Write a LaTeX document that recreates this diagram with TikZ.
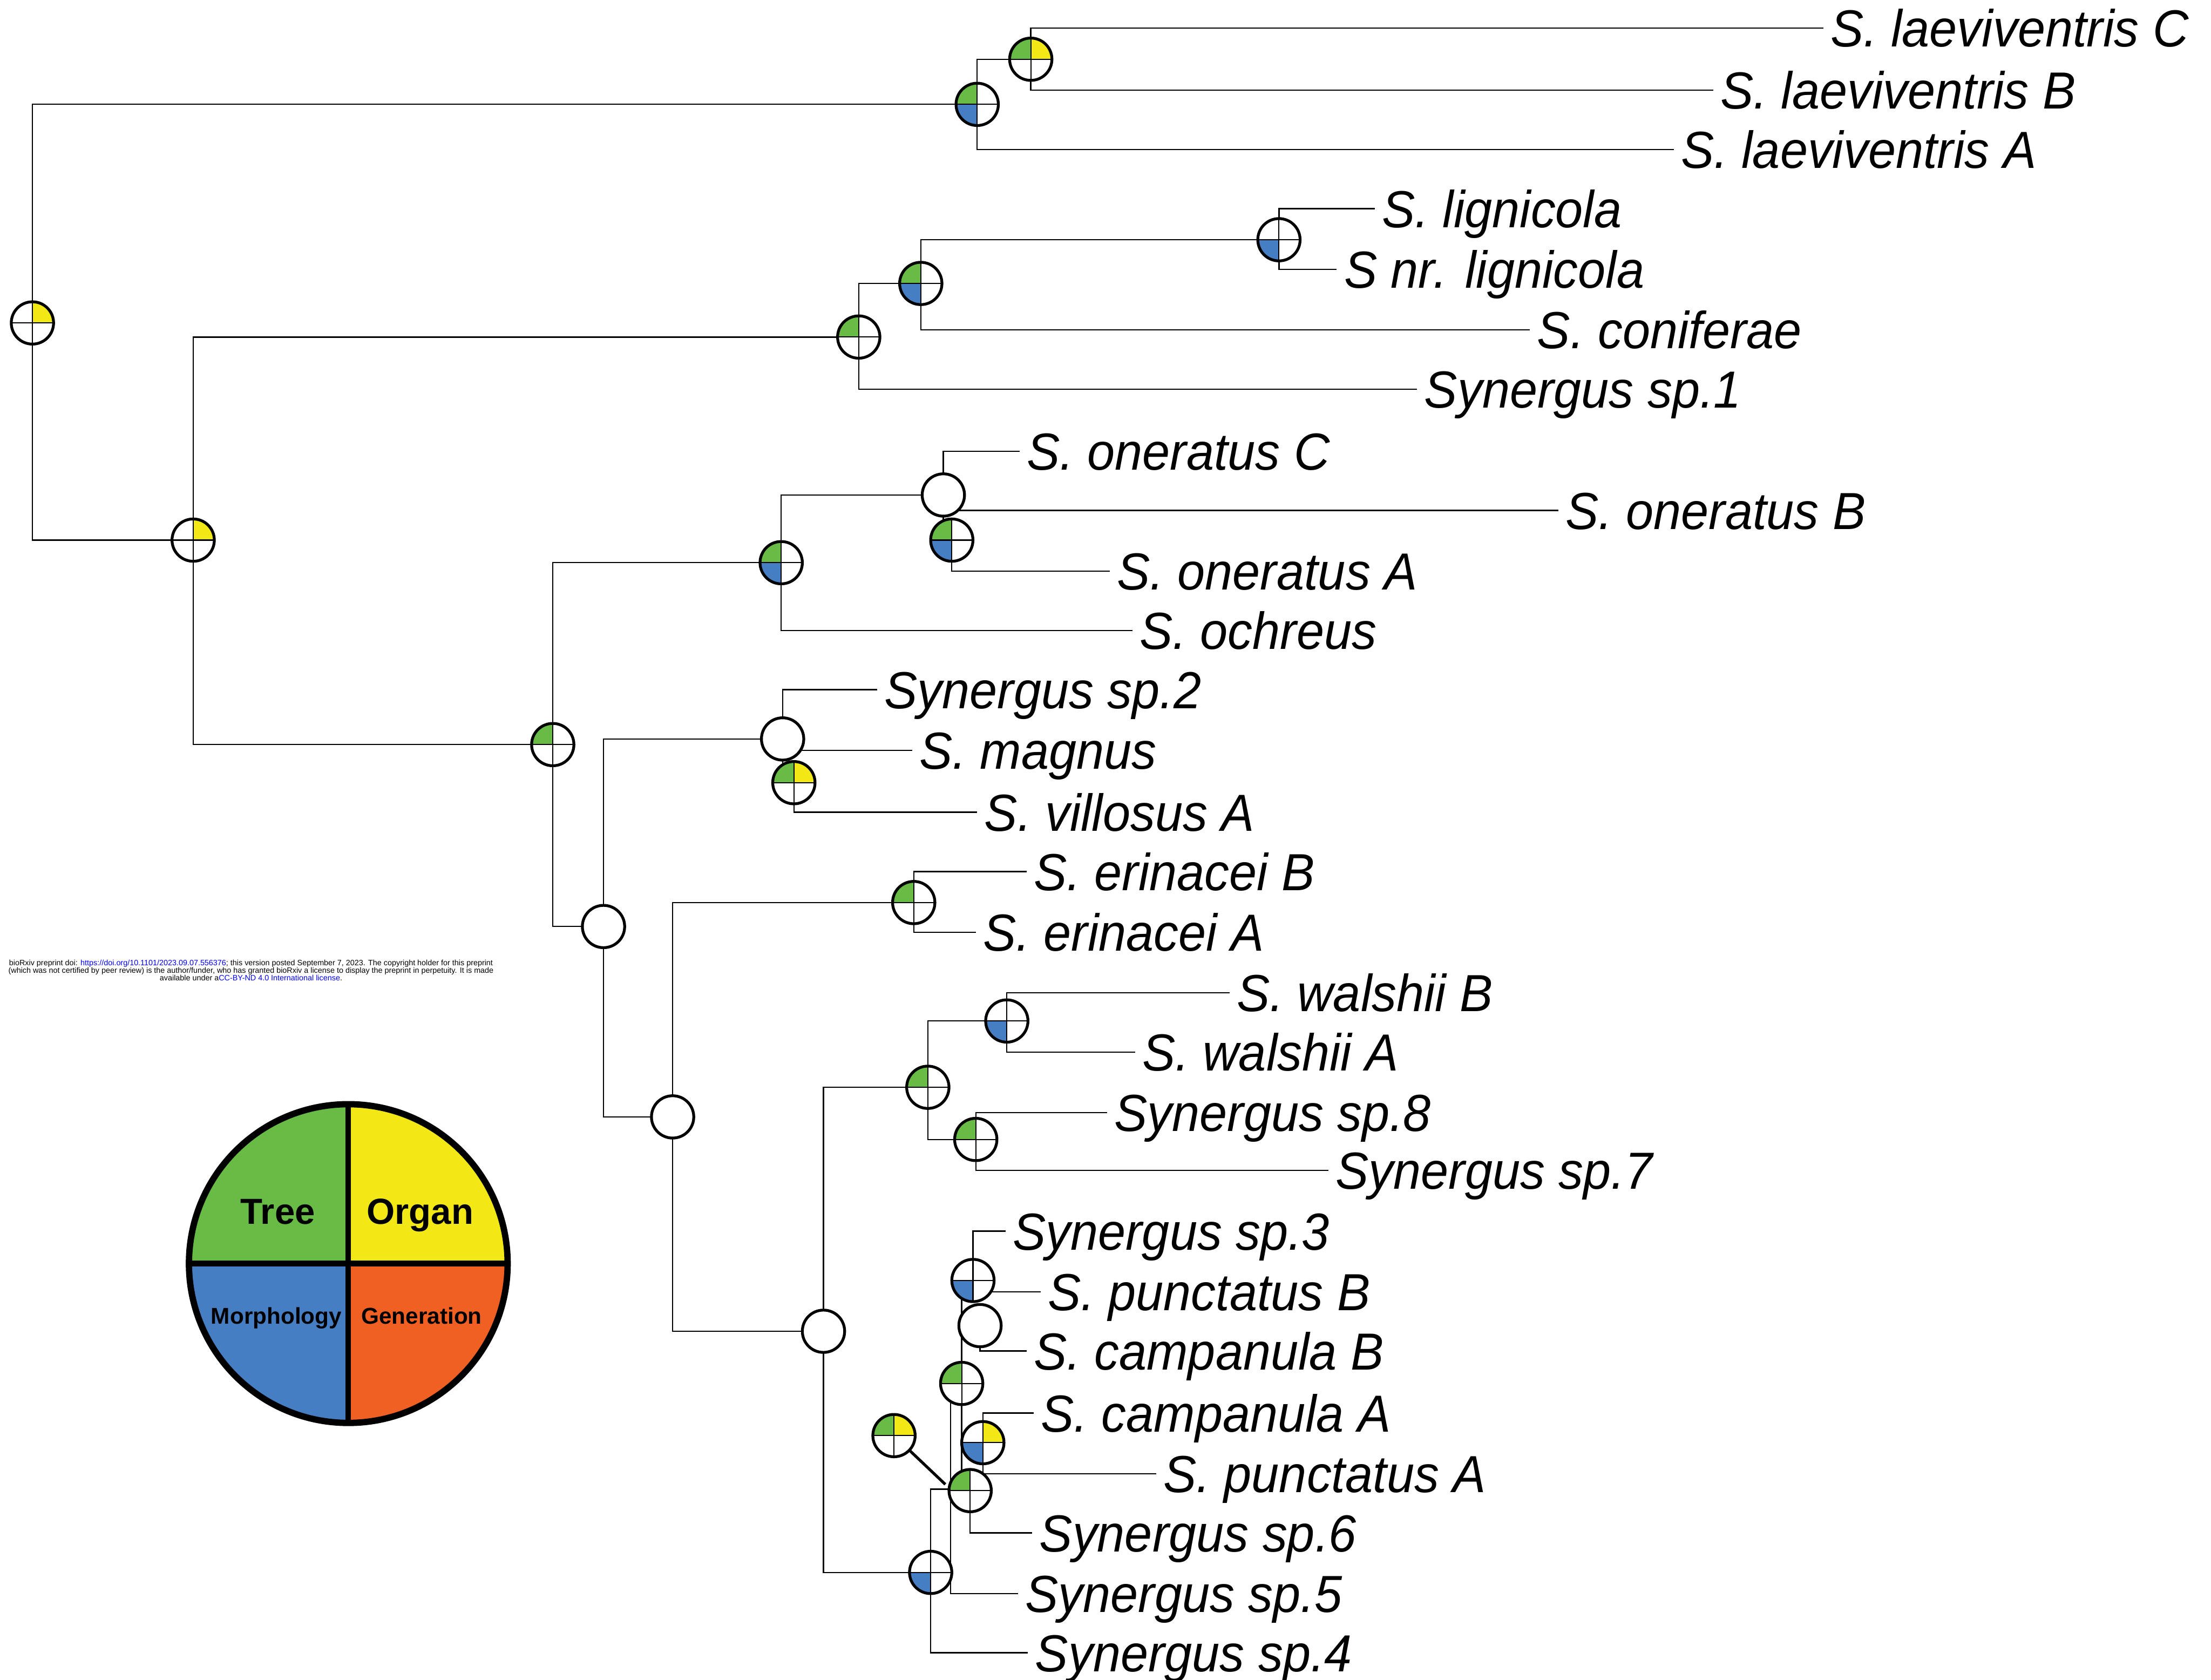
\documentclass[tikz,border=0pt]{standalone}
\usepackage{fontspec}
\setmainfont{Liberation Sans}
\newfontfamily\taxfont{Liberation Sans}[FakeStretch=0.95]
\newfontfamily\keyfont{Liberation Sans}
\usetikzlibrary{backgrounds}

\definecolor{treegreen}{RGB}{104,187,69}
\definecolor{organyellow}{RGB}{242,232,22}
\definecolor{morphblue}{RGB}{70,126,196}
\definecolor{genorange}{RGB}{240,96,34}
\definecolor{linkblue}{RGB}{0,0,255}

\tikzset{
  taxon/.style={anchor=west, inner xsep=5pt, inner ysep=0pt, text height=26.5pt, text depth=0pt,
    font=\taxfont\itshape\fontsize{37}{40}\selectfont},
  branch/.style={line width=0.9pt},
  blank/.style={circle, draw, fill=white, line width=2pt, minimum size=30pt, inner sep=0pt},
  pie/.style n args={4}{blank, path picture={
      \fill[#1] (path picture bounding box.center) rectangle (path picture bounding box.north west);
      \fill[#2] (path picture bounding box.center) rectangle (path picture bounding box.north east);
      \fill[#3] (path picture bounding box.center) rectangle (path picture bounding box.south west);
      \fill[#4] (path picture bounding box.center) rectangle (path picture bounding box.south east);
      \draw[line width=0.8pt] (path picture bounding box.north) -- (path picture bounding box.south)
        (path picture bounding box.west) -- (path picture bounding box.east);
    }},
  keypie/.style={circle, draw, line width=4.5pt, minimum size=226pt, inner sep=0pt, path picture={
      \fill[treegreen] (path picture bounding box.center) rectangle (path picture bounding box.north west);
      \fill[organyellow] (path picture bounding box.center) rectangle (path picture bounding box.north east);
      \fill[morphblue] (path picture bounding box.center) rectangle (path picture bounding box.south west);
      \fill[genorange] (path picture bounding box.center) rectangle (path picture bounding box.south east);
      \draw[line width=4pt] (path picture bounding box.north) -- (path picture bounding box.south)
        (path picture bounding box.west) -- (path picture bounding box.east);
    }},
  keybig/.style={inner sep=0pt, text height=18.4pt, text depth=0pt, font=\keyfont\bfseries\fontsize{25.7}{28}\selectfont},
  keysmall/.style={inner sep=0pt, text height=11.5pt, text depth=0pt, font=\keyfont\bfseries\fontsize{16.2}{18}\selectfont},
  note/.style={align=center, inner sep=0pt, font=\fontsize{5.5}{5.5}\selectfont},
}

\begin{document}
\begin{tikzpicture}[x=1pt, y=-1pt]
  \useasboundingbox (0,0) rectangle (1568,1191);

  % taxa
  \node[taxon] (laeC) at (1293,20) {S. laeviventris C};
  \node[taxon] (laeB) at (1215,64) {S. laeviventris B};
  \node[taxon] (laeA) at (1187,106) {S. laeviventris A};
  \node[taxon] (lign) at (975,148) {S. lignicola};
  \node[taxon] (nlign) at (948,191) {S nr. lignicola};
  \node[taxon] (conif) at (1085,234) {S. coniferae};
  \node[taxon] (sp1) at (1005,276) {Synergus sp.1};
  \node[taxon] (onC) at (723,320) {S. oneratus C};
  \node[taxon] (onB) at (1105,362) {S. oneratus B};
  \node[taxon] (onA) at (787,405) {S. oneratus A};
  \node[taxon] (och) at (803,447) {S. ochreus};
  \node[taxon] (sp2) at (622,489) {Synergus sp.2};
  \node[taxon] (magn) at (647,532) {S. magnus};
  \node[taxon] (villA) at (693,576) {S. villosus A};
  \node[taxon] (erB) at (728,618) {S. erinacei B};
  \node[taxon] (erA) at (692,661) {S. erinacei A};
  \node[taxon] (walB) at (872,704) {S. walshii B};
  \node[taxon] (walA) at (805,746) {S. walshii A};
  \node[taxon] (sp8) at (785,789) {Synergus sp.8};
  \node[taxon] (sp7) at (942,830) {Synergus sp.7};
  \node[taxon] (sp3) at (713,873) {Synergus sp.3};
  \node[taxon] (punB) at (738,916) {S. punctatus B};
  \node[taxon] (camB) at (728,958) {S. campanula B};
  \node[taxon] (camA) at (733,1002) {S. campanula A};
  \node[taxon] (punA) at (820,1045) {S. punctatus A};
  \node[taxon] (sp6) at (732,1087) {Synergus sp.6};
  \node[taxon] (sp5) at (722,1130) {Synergus sp.5};
  \node[taxon] (sp4) at (729,1172) {Synergus sp.4};

  % ancestral states: tree, organ, morphology, generation
  \node[pie={white}{organyellow}{white}{white}] (root) at (23,229) {};
  \node[pie={white}{organyellow}{white}{white}] (crown) at (137,383) {};
  \node[pie={treegreen}{white}{morphblue}{white}] (lae) at (693,74) {};
  \node[pie={treegreen}{organyellow}{white}{white}] (laeBC) at (731,42) {};
  \node[pie={treegreen}{white}{white}{white}] (con) at (609,239) {};
  \node[pie={treegreen}{white}{morphblue}{white}] (conA) at (653,201) {};
  \node[pie={white}{white}{morphblue}{white}] (lig) at (907,170) {};
  \node[pie={treegreen}{white}{white}{white}] (sub1) at (392,528) {};
  \node[pie={treegreen}{white}{morphblue}{white}] (one) at (554,399) {};
  \node[blank] (oneC) at (669,351) {};
  \node[pie={treegreen}{white}{morphblue}{white}] (oneA) at (675,383) {};
  \node[blank] (sub2) at (428,657) {};
  \node[blank] (mag) at (555,524) {};
  \node[pie={treegreen}{organyellow}{white}{white}] (vil) at (563,555) {};
  \node[blank] (sub3) at (477,792) {};
  \node[pie={treegreen}{white}{white}{white}] (eri) at (648,640) {};
  \node[blank] (sub4) at (584,944) {};
  \node[pie={treegreen}{white}{white}{white}] (wal) at (658,771) {};
  \node[pie={white}{white}{morphblue}{white}] (walBA) at (714,724) {};
  \node[pie={treegreen}{white}{white}{white}] (sp78) at (692,808) {};
  \coordinate (punK) at (674,1056);
  \node[pie={white}{white}{morphblue}{white}] (pun) at (660,1115) {};
  \node[pie={treegreen}{white}{white}{white}] (punC) at (682,981) {};
  \node[pie={white}{white}{morphblue}{white}] (punD) at (690,908) {};
  \node[blank] (camBn) at (695,940) {};
  \node[pie={white}{organyellow}{morphblue}{white}] (camAn) at (697,1023) {};
  \node[pie={treegreen}{white}{white}{white}] (sp6n) at (688,1057) {};
  \node[pie={treegreen}{organyellow}{white}{white}] (flt) at (634,1018) {};
  \draw[line width=2pt, shorten >=5pt] (flt) -- (punK);

  % branches
  \begin{scope}[on background layer]
    \fill[white] (0,0) rectangle (1568,1191);
    \draw[branch] (lae.center) -| (root.center) |- (crown.center);
    \draw[branch] (laeBC.center) -| (lae.center) |- (laeA.west);
    \draw[branch] (laeC.west) -| (laeBC.center) |- (laeB.west);
    \draw[branch] (con.center) -| (crown.center) |- (sub1.center);
    \draw[branch] (conA.center) -| (con.center) |- (sp1.west);
    \draw[branch] (lig.center) -| (conA.center) |- (conif.west);
    \draw[branch] (lign.west) -| (lig.center) |- (nlign.west);
    \draw[branch] (one.center) -| (sub1.center) |- (sub2.center);
    \draw[branch] (oneC.center) -| (one.center) |- (och.west);
    \draw[branch] (onC.west) -| (oneC.center) |- (oneA.center);
    \draw[branch] (oneC.center |- onB.west) -- (onB.west);
    \draw[branch] (oneA.center) |- (onA.west);
    \draw[branch] (mag.center) -| (sub2.center) |- (sub3.center);
    \draw[branch] (sp2.west) -| (mag.center) |- (vil.center);
    \draw[branch] (mag.center |- magn.west) -- (magn.west);
    \draw[branch] (vil.center) |- (villA.west);
    \draw[branch] (eri.center) -| (sub3.center) |- (sub4.center);
    \draw[branch] (erB.west) -| (eri.center) |- (erA.west);
    \draw[branch] (wal.center) -| (sub4.center) |- (pun.center);
    \draw[branch] (walBA.center) -| (wal.center) |- (sp78.center);
    \draw[branch] (walB.west) -| (walBA.center) |- (walA.west);
    \draw[branch] (sp8.west) -| (sp78.center) |- (sp7.west);
    \draw[branch] (punK) -| (pun.center) |- (sp4.west);
    \draw[branch] (punC.center) -| (punK) |- (sp5.west);
    \draw[branch] (punK) -- (sp6n.center);
    \draw[branch] (punC.center |- punD.center) -- (punC.center |- sp6n.center);
    \draw[branch] (sp3.west) -| (punD.center) |- (punB.west);
    \draw[branch] (camBn.center) |- (camB.west);
    \draw[branch] (camA.west) -| (camAn.center) |- (punA.west);
    \draw[branch] (sp6n.center) |- (sp6.west);
  \end{scope}

  % key
  \node[keypie] (key) at (247,896) {};
  \node[keybig] (kTree) at ([shift={(-50,-37)}]key.center) {Tree};
  \node[keybig] (kOrgan) at ([shift={(51,-37)}]key.center) {Organ};
  \node[keysmall] (kMorph) at ([shift={(-51,37)}]key.center) {Morphology};
  \node[keysmall] (kGen) at ([shift={(52,37)}]key.center) {Generation};

  % preprint stamp
  \node[note] (stamp) at (178,688) {bioRxiv preprint doi: \textcolor{linkblue}{https://doi.org/10.1101/2023.09.07.556376}; this version posted September 7, 2023. The copyright holder for this preprint\\
    (which was not certified by peer review) is the author/funder, who has granted bioRxiv a license to display the preprint in perpetuity. It is made\\
    available under a\textcolor{linkblue}{CC-BY-ND 4.0 International license}.};
\end{tikzpicture}
\end{document}
